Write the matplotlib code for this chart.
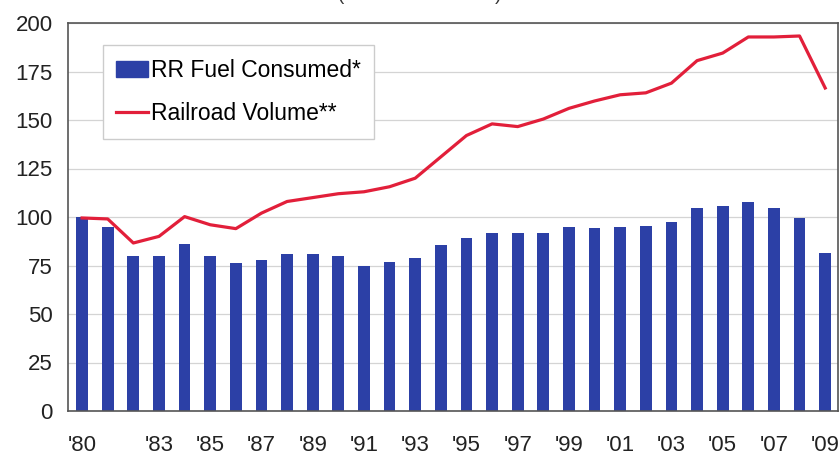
import numpy as np
import matplotlib.pyplot as plt
from matplotlib.patches import Patch
from matplotlib.lines import Line2D

plt.rcParams['font.family'] = ['Liberation Sans', 'DejaVu Sans']

# Datos (indice: 1980 = 100)
years = list(range(1980, 2010))
fuel = [100, 95, 80, 79.7, 86, 80, 76.5, 78, 81, 81,
        80, 74.5, 77, 79, 85.5, 89, 91.5, 91.5, 92, 95,
        94.5, 95, 95.4, 97.6, 104.6, 105.7, 107.9, 104.8, 99.7, 81.6]
volume = [99.5, 99, 86.6, 90, 100.2, 96, 94, 102, 108, 110,
          112, 113, 115.6, 120, 131, 142, 148, 146.6, 150.5, 156,
          159.8, 163, 164, 169, 180.6, 184.5, 192.8, 192.8, 193.3, 166.5]
tick_years = [1980, 1983, 1985, 1987, 1989, 1991, 1993, 1995, 1997,
              1999, 2001, 2003, 2005, 2007, 2009]

bar_color = '#2C40A6'
line_color = '#E21F3A'

fig = plt.figure(figsize=(8.4, 4.57), dpi=100)
ax = fig.add_axes([68 / 840, 1 - 411 / 457, 770 / 840, 388 / 457])

x = np.arange(len(years))
ax.bar(x, fuel, width=0.46, color=bar_color, zorder=2)
ax.plot(x, volume, color=line_color, lw=2.3, zorder=3)

ax.set_ylim(0, 200)
ax.set_yticks(range(0, 201, 25))
ax.set_xlim(-0.55, len(years) - 0.5)
tick_pos = [years.index(y) for y in tick_years]
ax.set_xticks(tick_pos)
ax.set_xticklabels(["'" + str(y)[2:] for y in tick_years])
ax.tick_params(axis='both', length=0, labelsize=16, colors='#222222')
ax.tick_params(axis='y', pad=11)
ax.tick_params(axis='x', pad=17)

ax.grid(axis='y', color='#d4d4d4', lw=0.9, zorder=0)
for s in ['left', 'bottom', 'top', 'right']:
    ax.spines[s].set_color('#555555')
    ax.spines[s].set_linewidth(1.2)

handles = [Patch(facecolor=bar_color, edgecolor=bar_color),
           Line2D([0], [0], color=line_color, lw=2.3)]
leg = ax.legend(handles, ['RR Fuel Consumed*', 'Railroad Volume**'],
                loc='upper left', bbox_to_anchor=(0.045, 0.943), fontsize=16.5,
                fancybox=False, framealpha=1, edgecolor='#cccccc',
                handlelength=1.4, handletextpad=0.1, labelspacing=0.9,
                borderpad=0.6, borderaxespad=0)
leg.get_frame().set_linewidth(1.0)

# subtitulo recortado arriba
fig.text(0.5, 1 + 4 / 457, '(Index: 1980 = 100)', ha='center', va='center',
         fontsize=13.5, color='#333333')

fig.savefig('out.png', dpi=100)
